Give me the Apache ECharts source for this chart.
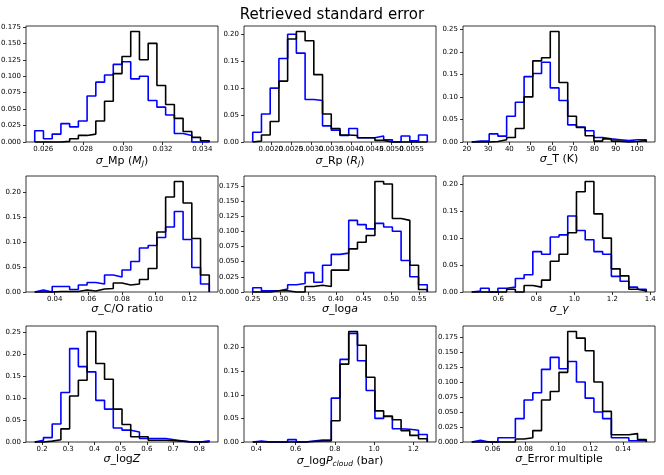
<!DOCTYPE html>
<html lang="en">
<head>
<meta charset="UTF-8">
<title>Retrieved standard error</title>
<script src="https://cdn.jsdelivr.net/npm/echarts@6.0.0/dist/echarts.min.js"></script>
<style>html,body{margin:0;padding:0;background:#fff;}</style>
</head>
<body>
<div id="chart" style="width:664px;height:475px;"></div>
<script>
// each panel: first and last bin edge, then 20 bin fractions (blue, black)
var mpRange = [0.02557, 0.03435];
var mpBlue = [0.017, 0.005, 0.012, 0.028, 0.023, 0.032, 0.070, 0.091, 0.102, 0.118, 0.122, 0.096, 0.100, 0.063, 0.053, 0.041, 0.013, 0.010, 0, 0];
var mpBlack = [0, 0, 0, 0.001, 0.005, 0.010, 0.012, 0.032, 0.062, 0.104, 0.130, 0.168, 0.125, 0.150, 0.086, 0.057, 0.036, 0.016, 0.007, 0.002];

var rpRange = [0.00155, 0.00589];
var rpBlue = [0.018, 0.052, 0.100, 0.155, 0.200, 0.165, 0.079, 0.077, 0.030, 0.022, 0.012, 0.025, 0.008, 0.008, 0.011, 0.004, 0, 0.011, 0.002, 0.013];
var rpBlack = [0.002, 0.013, 0.038, 0.113, 0.191, 0.205, 0.188, 0.125, 0.052, 0.025, 0.013, 0.012, 0.008, 0.008, 0.003, 0, 0, 0, 0, 0];

var tRange = [22.3, 104.4];
var tBlue = [0.002, 0.002, 0.018, 0.013, 0.057, 0.088, 0.145, 0.152, 0.177, 0.120, 0.092, 0.038, 0.033, 0.025, 0.010, 0.007, 0.005, 0.003, 0.005, 0.005];
var tBlack = [0, 0, 0.001, 0.005, 0.010, 0.030, 0.100, 0.180, 0.187, 0.245, 0.132, 0.057, 0.032, 0.014, 0.002, 0.007, 0.002, 0, 0.001, 0.003];

var coRange = [0.02815, 0.1318];
var coBlue = [0.004, 0, 0.011, 0.011, 0.005, 0.014, 0.019, 0.016, 0.034, 0.030, 0.044, 0.061, 0.088, 0.093, 0.109, 0.130, 0.161, 0.105, 0.049, 0.016];
var coBlack = [0, 0, 0.001, 0.001, 0.001, 0.004, 0.002, 0.006, 0.007, 0.018, 0.014, 0.016, 0.025, 0.047, 0.120, 0.190, 0.221, 0.178, 0.107, 0.034];

var logaRange = [0.25, 0.565];
var logaBlue = [0.007, 0.002, 0.002, 0.005, 0.012, 0.014, 0.032, 0.016, 0.044, 0.062, 0.064, 0.118, 0.111, 0.104, 0.113, 0.107, 0.100, 0.052, 0.025, 0.012];
var logaBlack = [0, 0, 0.002, 0.002, 0, 0, 0.009, 0.011, 0.009, 0.036, 0.036, 0.071, 0.082, 0.093, 0.182, 0.178, 0.121, 0.118, 0.044, 0.004];

var gammaRange = [0.460, 1.379];
var gammaBlue = [0.002, 0.007, 0, 0.007, 0.009, 0.025, 0.032, 0.075, 0.070, 0.102, 0.106, 0.141, 0.114, 0.097, 0.075, 0.070, 0.029, 0.020, 0.009, 0.005];
var gammaBlack = [0, 0, 0, 0, 0.005, 0, 0.012, 0.009, 0.022, 0.057, 0.070, 0.110, 0.186, 0.205, 0.145, 0.100, 0.043, 0.030, 0.005, 0.002];

var logzRange = [0.1722, 0.838];
var logzBlue = [0.004, 0.010, 0.041, 0.113, 0.213, 0.172, 0.160, 0.095, 0.075, 0.032, 0.027, 0.023, 0.008, 0.008, 0.008, 0.005, 0.002, 0, 0, 0.003];
var logzBlack = [0, 0.002, 0.005, 0.030, 0.105, 0.141, 0.252, 0.179, 0.143, 0.075, 0.040, 0.012, 0.012, 0.004, 0.004, 0.003, 0.002, 0, 0, 0];

var pcRange = [0.3814, 1.271];
var pcBlue = [0.002, 0, 0, 0, 0.005, 0, 0.002, 0.004, 0.004, 0.093, 0.175, 0.230, 0.172, 0.109, 0.050, 0.055, 0.028, 0.027, 0.025, 0.016];
var pcBlack = [0, 0, 0, 0, 0, 0, 0.001, 0.002, 0.002, 0.045, 0.165, 0.234, 0.205, 0.137, 0.066, 0.054, 0.047, 0.024, 0.014, 0.007];

var errRange = [0.04717, 0.15425];
var errBlue = [0.003, 0, 0, 0.007, 0.007, 0.039, 0.070, 0.082, 0.121, 0.141, 0.122, 0.134, 0.100, 0.073, 0.050, 0.039, 0.007, 0.007, 0.002, 0.002];
var errBlack = [0, 0, 0, 0, 0, 0.005, 0.007, 0.019, 0.070, 0.084, 0.116, 0.184, 0.173, 0.152, 0.100, 0.051, 0.012, 0.012, 0.014, 0.004];

// tick labels
var mpTicks = ['0.026', '0.028', '0.030', '0.032', '0.034'];
var rpTicks = ['0.0020', '0.0025', '0.0030', '0.0035', '0.0040', '0.0045', '0.0050', '0.0055'];
var tTicks = ['20', '30', '40', '50', '60', '70', '80', '90', '100'];
var coTicks = ['0.04', '0.06', '0.08', '0.10', '0.12'];
var logaTicks = ['0.25', '0.30', '0.35', '0.40', '0.45', '0.50', '0.55'];
var gammaTicks = ['0.6', '0.8', '1.0', '1.2', '1.4'];
var logzTicks = ['0.2', '0.3', '0.4', '0.5', '0.6', '0.7', '0.8'];
var pcTicks = ['0.4', '0.6', '0.8', '1.0', '1.2'];
var errTicks = ['0.06', '0.08', '0.10', '0.12', '0.14'];
var yTicks175 = ['0.000', '0.025', '0.050', '0.075', '0.100', '0.125', '0.150', '0.175'];
var yTicks20 = ['0.00', '0.05', '0.10', '0.15', '0.20'];
var yTicks25 = ['0.00', '0.05', '0.10', '0.15', '0.20', '0.25'];

var panels = [
  {range: mpRange, blue: mpBlue, black: mpBlack, xt: mpTicks, yt: yTicks175, name: '{i|σ}_Mp ({i|M}{s|J})'},
  {range: rpRange, blue: rpBlue, black: rpBlack, xt: rpTicks, yt: yTicks20, name: '{i|σ}_Rp ({i|R}{s|J})'},
  {range: tRange, blue: tBlue, black: tBlack, xt: tTicks, yt: yTicks25, name: '{i|σ}_T (K)'},
  {range: coRange, blue: coBlue, black: coBlack, xt: coTicks, yt: yTicks20, name: '{i|σ}_C/O ratio'},
  {range: logaRange, blue: logaBlue, black: logaBlack, xt: logaTicks, yt: yTicks175, name: '{i|σ}_log{i|a}'},
  {range: gammaRange, blue: gammaBlue, black: gammaBlack, xt: gammaTicks, yt: yTicks20, name: '{i|σ}_{i|γ}'},
  {range: logzRange, blue: logzBlue, black: logzBlack, xt: logzTicks, yt: yTicks25, name: '{i|σ}_log{i|Z}'},
  {range: pcRange, blue: pcBlue, black: pcBlack, xt: pcTicks, yt: yTicks20, name: '{i|σ}_log{i|P}{s|cloud} (bar)'},
  {range: errRange, blue: errBlue, black: errBlack, xt: errTicks, yt: yTicks175, name: '{i|σ}_Error multiple'}
];

var lefts = [26, 244, 463];
var tops = [26, 176, 326];
var font = 'DejaVu Sans';

function stepPoints(range, counts) {
  var n = counts.length, w = (range[1] - range[0]) / n;
  var pts = [[range[0], 0]];
  for (var k = 0; k < n; k++) pts.push([range[0] + k * w, counts[k]]);
  pts.push([range[1], 0]);
  return pts;
}

function labelFmt(labels) {
  return function (v) {
    var best = labels[0];
    labels.forEach(function (s) {
      if (Math.abs(parseFloat(s) - v) < Math.abs(parseFloat(best) - v)) best = s;
    });
    return best;
  };
}

var tickLabel = {margin: 4, fontSize: 7, color: '#000', fontFamily: font, hideOverlap: false};

var grids = [], xAxes = [], yAxes = [], series = [];
panels.forEach(function (p, i) {
  var lo = p.range[0], hi = p.range[1], pad = 0.05 * (hi - lo);
  var ymax = 1.05 * Math.max.apply(null, p.blue.concat(p.black));
  var xv = p.xt.map(parseFloat), yv = p.yt.map(parseFloat);
  // labels split over two bottom axes so that crowded ones are not dropped
  var xEven = xv.filter(function (v, k) { return k % 2 === 0; });
  var xOdd = xv.filter(function (v, k) { return k % 2 === 1; });
  grids.push({
    left: lefts[i % 3], top: tops[Math.floor(i / 3)], width: 192, height: 116,
    show: true, borderColor: '#000', borderWidth: 0.8, backgroundColor: '#fff',
    containLabel: false, outerBoundsMode: 'none'
  });
  xAxes.push({
    type: 'value', gridIndex: i, position: 'bottom', min: lo - pad, max: hi + pad,
    axisLine: {show: false}, splitLine: {show: false},
    axisTick: {show: true, customValues: xv, length: 3, lineStyle: {color: '#000', width: 0.8}},
    axisLabel: Object.assign({customValues: xEven, formatter: labelFmt(p.xt)}, tickLabel),
    name: p.name, nameLocation: 'middle', nameGap: 12,
    nameTextStyle: {
      fontSize: 11, color: '#000', fontFamily: font,
      rich: {
        i: {fontStyle: 'italic', fontSize: 11, color: '#000', fontFamily: font},
        s: {fontStyle: 'italic', fontSize: 7.5, color: '#000', fontFamily: font, padding: [6, 0, 0, 0]}
      }
    }
  });
  xAxes.push({
    type: 'value', gridIndex: i, position: 'bottom', offset: 0, min: lo - pad, max: hi + pad,
    axisLine: {show: false}, splitLine: {show: false}, axisTick: {show: false},
    axisLabel: Object.assign({show: xOdd.length > 0, customValues: xOdd, formatter: labelFmt(p.xt)}, tickLabel)
  });
  yAxes.push({
    type: 'value', gridIndex: i, min: 0, max: ymax,
    axisLine: {show: false}, splitLine: {show: false},
    axisTick: {show: true, customValues: yv, length: 3, lineStyle: {color: '#000', width: 0.8}},
    axisLabel: {customValues: yv, formatter: labelFmt(p.yt), margin: 5, fontSize: 7, color: '#000', fontFamily: font}
  });
  [['#0000ff', p.blue], ['#000000', p.black]].forEach(function (s) {
    series.push({
      type: 'line', xAxisIndex: 2 * i, yAxisIndex: i, step: 'end',
      data: stepPoints(p.range, s[1]),
      symbol: 'none', showSymbol: false, clip: false, silent: true,
      lineStyle: {color: s[0], width: 1.6}
    });
  });
});

var myChart = echarts.init(document.getElementById('chart'));
myChart.setOption({
  animation: false,
  backgroundColor: '#fff',
  title: {
    text: 'Retrieved standard error', left: 'center', top: 3,
    textStyle: {fontSize: 15, fontWeight: 'normal', color: '#000', fontFamily: font}
  },
  grid: grids,
  xAxis: xAxes,
  yAxis: yAxes,
  series: series
});
</script>
</body>
</html>
